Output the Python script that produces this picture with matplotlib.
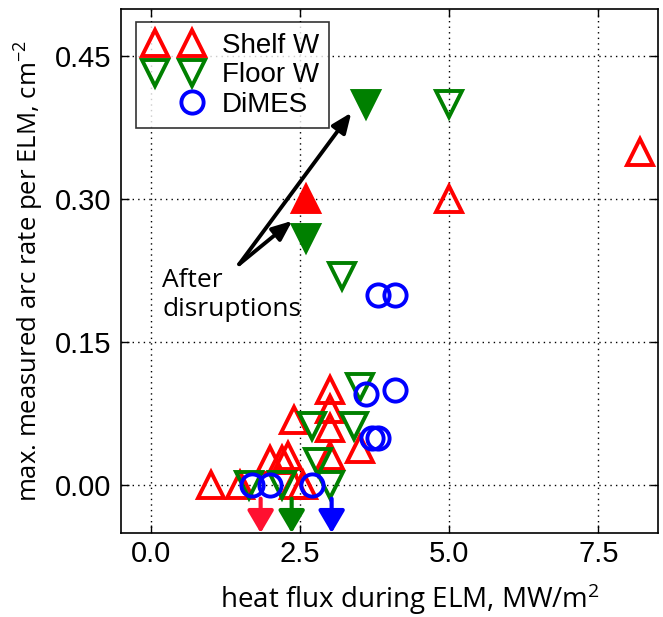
import matplotlib
matplotlib.use("Agg")
import matplotlib.pyplot as plt
from matplotlib.lines import Line2D
from matplotlib.legend_handler import HandlerLine2D

plt.rcParams['mathtext.default'] = 'regular'

# Shelf W (open up-triangles)
shelf_x = [8.2, 5.0, 1.0, 1.5, 2.0, 2.2, 2.3, 2.4, 3.0, 3.0, 3.0, 3.0, 3.5, 2.4, 2.55]
shelf_y = [0.35, 0.30, 0.0, 0.0, 0.027, 0.027, 0.031, 0.069, 0.10, 0.08, 0.06, 0.031, 0.038, 0.0, 0.0]
# Shelf W after disruptions (filled)
shelf_dis_x = [2.6]
shelf_dis_y = [0.30]

# Floor W (open down-triangles)
floor_x = [5.0, 3.2, 3.5, 2.7, 3.4, 2.8, 1.65, 2.2, 3.0]
floor_y = [0.40, 0.22, 0.103, 0.062, 0.062, 0.025, 0.0, 0.0, 0.0]
# Floor W after disruptions (filled)
floor_dis_x = [3.6, 2.6]
floor_dis_y = [0.40, 0.26]

# DiMES (open circles)
dimes_x = [3.8, 4.1, 3.6, 4.1, 3.7, 3.8, 1.7, 2.0, 2.7]
dimes_y = [0.20, 0.20, 0.096, 0.10, 0.05, 0.05, 0.0, 0.0, 0.0]

# upper-limit arrows below zero
limit_x = [1.84, 2.36, 3.03]
limit_colors = ['#ff1030', 'green', 'blue']

red, green, blue = 'red', 'green', 'blue'
ms_tri, ms_circ, mew = 18.5, 16, 2.8

fig = plt.figure(figsize=(6.63, 6.17), dpi=100)
ax = fig.add_axes([0.1825, 0.1361, 0.81, 0.8497])

ax.grid(True, color='k', linestyle=(0, (1, 3)), linewidth=1.0)
ax.set_axisbelow(True)

ax.plot(shelf_x, shelf_y, ls='none', marker='^', ms=ms_tri, mew=mew, mfc='none', mec=red)
ax.plot(shelf_dis_x, shelf_dis_y, ls='none', marker='^', ms=ms_tri, mew=mew, mfc=red, mec=red)
ax.plot(floor_x, floor_y, ls='none', marker='v', ms=ms_tri, mew=mew, mfc='none', mec=green)
ax.plot(floor_dis_x, floor_dis_y, ls='none', marker='v', ms=ms_tri, mew=mew, mfc=green, mec=green)
ax.plot(dimes_x, dimes_y, ls='none', marker='o', ms=ms_circ, mew=mew, mfc='none', mec=blue)

for x, c in zip(limit_x, limit_colors):
    ax.annotate('', xy=(x, -0.05), xytext=(x, -0.014),
                arrowprops=dict(arrowstyle='-|>,head_length=0.68,head_width=0.4',
                                color=c, lw=3, mutation_scale=20,
                                shrinkA=0, shrinkB=0))

# "After disruptions" arrows
for tip in [(3.36, 0.391), (2.37, 0.2775)]:
    ax.annotate('', xy=tip, xytext=(1.48, 0.232),
                arrowprops=dict(arrowstyle='-|>,head_length=0.6,head_width=0.25',
                                color='k', lw=2.8, mutation_scale=20,
                                shrinkA=0, shrinkB=0))
ax.text(0.19, 0.178, 'After\ndisruptions', family='Open Sans', fontsize=19,
        ha='left', va='baseline', linespacing=1.2)

ax.set_xlim(-0.5, 8.5)
ax.set_ylim(-0.05, 0.5)
ax.set_xticks([0.0, 2.5, 5.0, 7.5])
ax.set_yticks([0.0, 0.15, 0.30, 0.45])
ax.set_yticklabels(['0.00', '0.15', '0.30', '0.45'])
ax.tick_params(direction='in', top=True, right=True, length=6, width=1,
               labelsize=21)
ax.tick_params(axis='x', pad=5)
ax.tick_params(axis='y', pad=7)
for lab in ax.get_xticklabels() + ax.get_yticklabels():
    lab.set_family('Liberation Sans')
for sp in ax.spines.values():
    sp.set_linewidth(1.2)

ax.set_xlabel('heat flux during ELM, MW/m$^{2}$', family='Open Sans', fontsize=20)
ax.set_ylabel('max. measured arc rate per ELM, cm$^{-2}$', family='Open Sans', fontsize=18.5)
ax.xaxis.set_label_coords(0.538, -0.143)
ax.xaxis.label.set_va('baseline')
ax.yaxis.set_label_coords(-0.14, 0.5)


class SecondMarkerOnly(HandlerLine2D):
    def create_artists(self, legend, orig_handle, xdescent, ydescent,
                       width, height, fontsize, trans):
        artists = super().create_artists(legend, orig_handle, xdescent, ydescent,
                                         width, height, fontsize, trans)
        mk = artists[-1]
        xd, yd = mk.get_data()
        mk.set_data(xd[1:], yd[1:])
        return artists


h_shelf = Line2D([], [], ls='none', marker='^', ms=ms_tri, mew=mew, mfc='none', mec=red)
h_floor = Line2D([], [], ls='none', marker='v', ms=ms_tri, mew=mew, mfc='none', mec=green)
h_dimes = Line2D([], [], ls='none', marker='o', ms=ms_circ, mew=mew, mfc='none', mec=blue)
leg = ax.legend([h_shelf, h_floor, h_dimes], ['Shelf W', 'Floor W', 'DiMES'],
                loc='upper left', bbox_to_anchor=(0.028, 0.974), borderaxespad=0,
                numpoints=2, handlelength=1.95, handletextpad=0.75,
                labelspacing=0.12, borderpad=0.38, fancybox=False,
                prop={'family': 'Liberation Sans', 'size': 20},
                handler_map={h_dimes: SecondMarkerOnly(numpoints=2)})
leg.get_frame().set_edgecolor('k')
leg.get_frame().set_linewidth(1.2)

fig.savefig('out.png', dpi=100)
